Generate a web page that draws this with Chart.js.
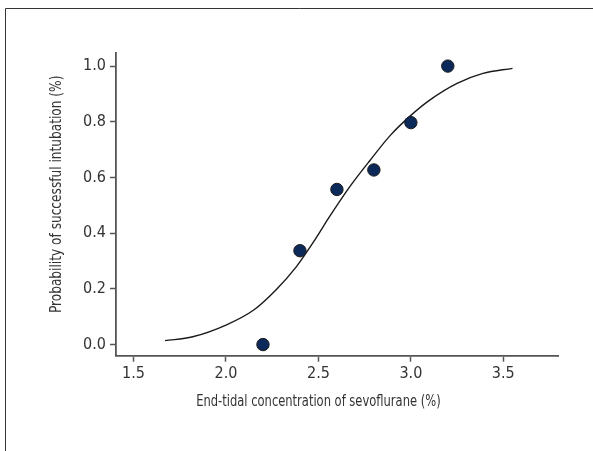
<!DOCTYPE html>
<html>

<head>
	<meta charset="utf-8">
	<title>sevoflurane</title>
	<style>
		html, body { margin: 0; padding: 0; background: #fff; }
		#wrap { position: relative; width: 593px; height: 451px; }
	</style>
</head>

<body>
	<script src="https://cdn.jsdelivr.net/npm/chart.js"></script>
	<div id="wrap">
		<canvas id="myChart" width="593" height="451"></canvas>
	</div>

	<script>
    // observed points
    var concX = [2.2, 2.4, 2.6, 2.8, 3.0, 3.2];
    var probY = [0.0, 0.337, 0.557, 0.627, 0.797, 1.0];

    // fitted curve
    var curveX = [1.67, 1.82, 2.00, 2.15, 2.27, 2.38, 2.48, 2.56, 2.67, 2.78, 2.89, 3.00, 3.10, 3.25, 3.39, 3.55];
    var curveY = [0.014, 0.028, 0.070, 0.124, 0.196, 0.279, 0.375, 0.459, 0.567, 0.662, 0.752, 0.823, 0.877, 0.938, 0.974, 0.992];

    var xTicks = [1.5, 2.0, 2.5, 3.0, 3.5];
    var yTicks = [0.0, 0.2, 0.4, 0.6, 0.8, 1.0];

    var xTitle = 'End-tidal concentration of sevoflurane (%)';
    var yTitle = 'Probability of successful intubation (%)';

    var FONT = '"Liberation Sans Narrow", "DejaVu Sans Condensed", "Roboto Condensed", Roboto, sans-serif';
    var axisCol = '#555555';

    function pairs(xs, ys) {
      var out = [];
      for (var i = 0; i < xs.length; i++) out.push({ x: xs[i], y: ys[i] });
      return out;
    }

    // frame lines + axis titles centred on the tick range
    const extras = {
      id: 'extras',
      afterDraw(chart) {
        const c = chart.ctx;
        const xs = chart.scales.x, ys = chart.scales.y;
        c.save();
        c.strokeStyle = '#333';
        c.lineWidth = 1;
        c.beginPath();
        c.moveTo(5.5, 451);
        c.lineTo(5.5, 8.5);
        c.lineTo(593, 8.5);
        c.stroke();

        c.fillStyle = '#333';
        c.font = '16px ' + FONT;
        c.textAlign = 'center';
        c.textBaseline = 'middle';
        var cx = (xs.getPixelForValue(xTicks[0]) + xs.getPixelForValue(xTicks[xTicks.length - 1])) / 2;
        c.save();
        c.translate(cx, 402);
        c.scale(0.8, 1);
        c.fillText(xTitle, 0, 0);
        c.restore();

        var cy = (ys.getPixelForValue(yTicks[0]) + ys.getPixelForValue(yTicks[yTicks.length - 1])) / 2;
        c.translate(57, cy - 11);
        c.rotate(-Math.PI / 2);
        c.scale(0.845, 1);
        c.fillText(yTitle, 0, 0);
        c.restore();
      }
    };

    const ctx = document.getElementById('myChart').getContext('2d');

    const data = {
      datasets: [
        {
          label: 'Observed',
          data: pairs(concX, probY),
          pointRadius: 6.2,
          pointBackgroundColor: '#0b2a5a',
          pointBorderColor: '#1a1a1a',
          pointBorderWidth: 1,
          showLine: false,
          order: 1
        },
        {
          label: 'Fit',
          data: pairs(curveX, curveY),
          showLine: true,
          borderColor: '#1a1a1a',
          borderWidth: 1.4,
          pointRadius: 0,
          fill: false,
          cubicInterpolationMode: 'monotone',
          order: 2
        }
      ]
    };

    function scaleGrid() {
      return {
        display: true,
        drawOnChartArea: false,
        drawTicks: true,
        tickLength: 6,
        color: axisCol,
        tickColor: axisCol,
        tickWidth: 1.5
      };
    }

    const config = {
      type: 'scatter',
      data: data,
      options: {
        responsive: false,
        animation: false,
        devicePixelRatio: 1,
        layout: { padding: { left: 0, top: 53, right: 35, bottom: 35 } },
        plugins: {
          legend: { display: false },
          tooltip: { enabled: false }
        },
        scales: {
          x: {
            type: 'linear',
            min: 1.405,
            max: 3.796,
            grid: scaleGrid(),
            border: { display: true, color: axisCol, width: 1.8 },
            afterBuildTicks: function (s) { s.ticks = xTicks.map(function (v) { return { value: v }; }); },
            afterFit: function (s) { s.height = 60.3; },
            ticks: {
              color: '#333',
              font: { family: FONT, size: 16 },
              padding: 3,
              maxRotation: 0,
              callback: function (v) { return v.toFixed(1); }
            }
          },
          y: {
            type: 'linear',
            min: -0.04,
            max: 1.047,
            grid: scaleGrid(),
            border: { display: true, color: axisCol, width: 1.8 },
            afterBuildTicks: function (s) { s.ticks = yTicks.map(function (v) { return { value: v }; }); },
            afterFit: function (s) { s.width = 116; },
            ticks: {
              color: '#333',
              font: { family: FONT, size: 16 },
              padding: 4,
              callback: function (v) { return v.toFixed(1); }
            }
          }
        }
      },
      plugins: [extras]
    };

    var myChart = new Chart(ctx, config);
	</script>

</body>

</html>
